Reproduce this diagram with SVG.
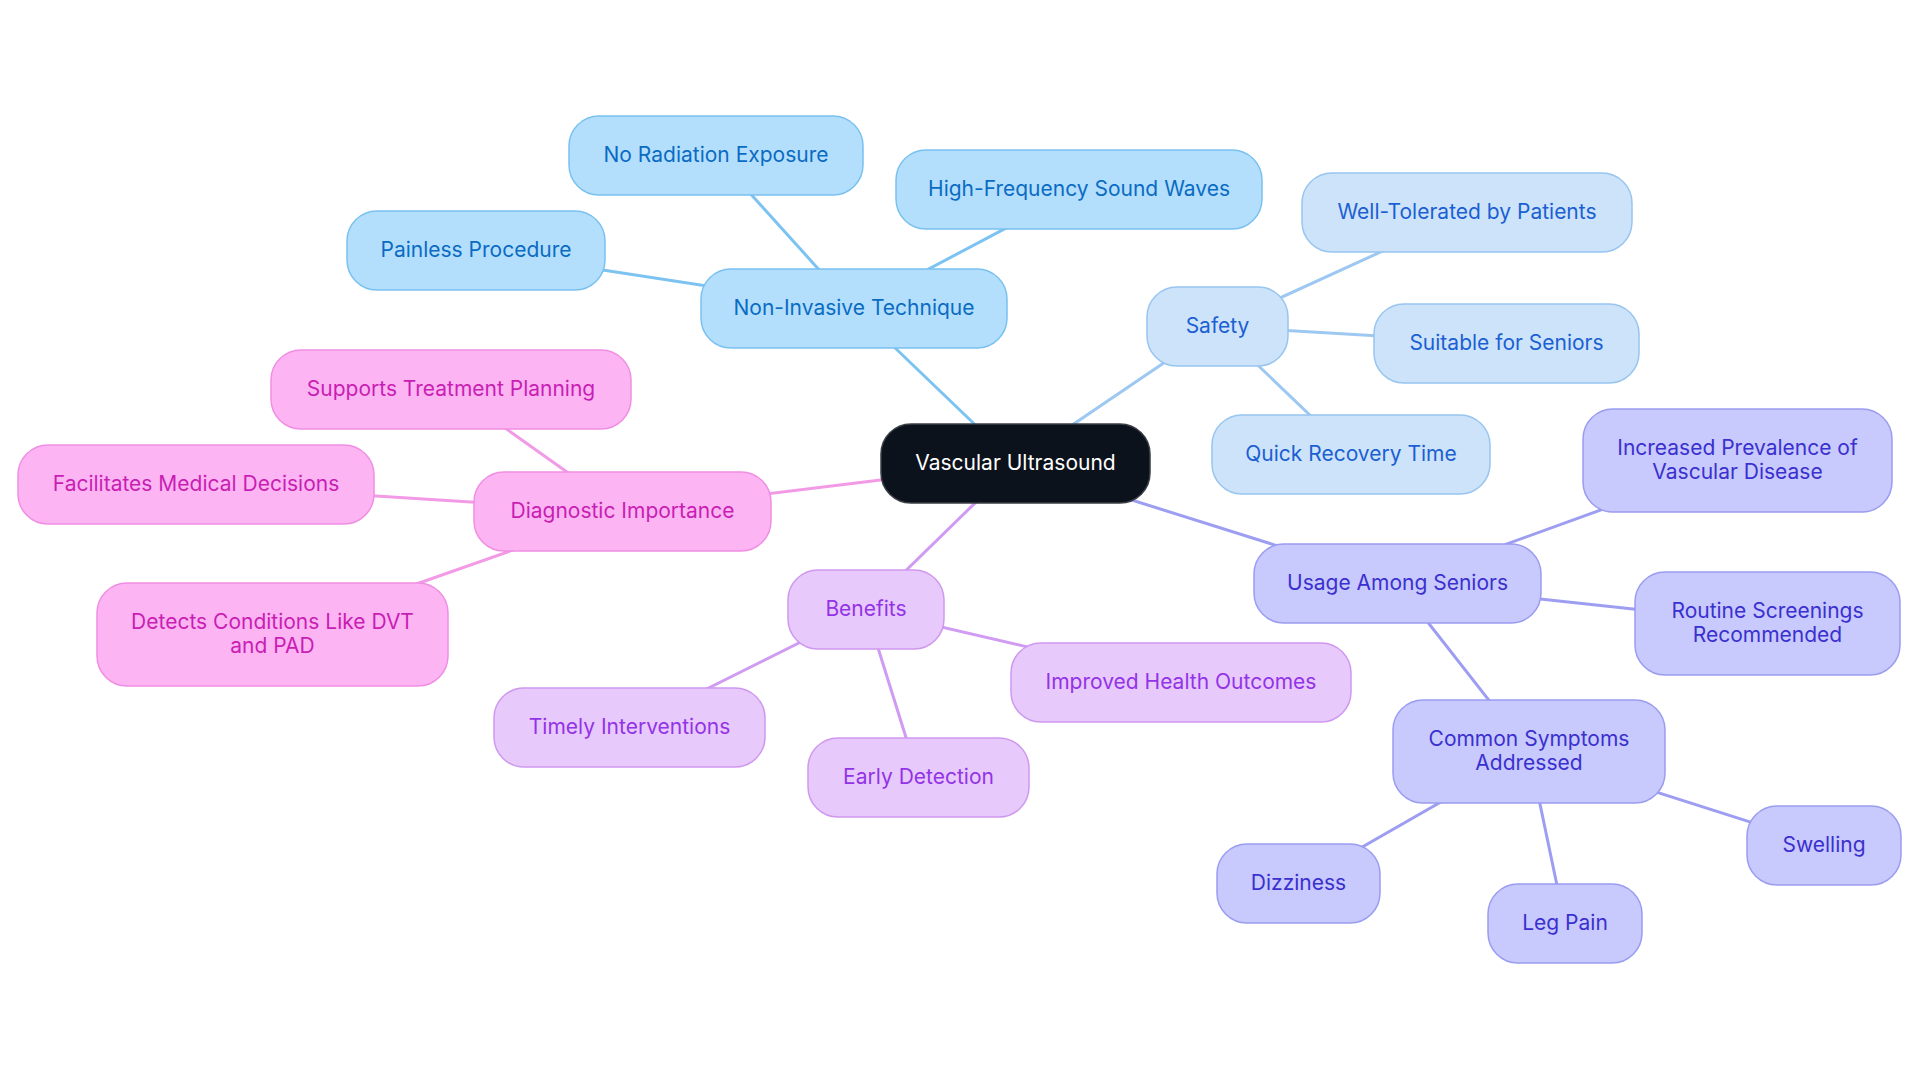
<svg xmlns="http://www.w3.org/2000/svg" width="1920" height="1083" viewBox="0 0 1920 1083">
<style>
text{font-family:Inter,"Open Sans","Liberation Sans",sans-serif;font-size:21px;text-anchor:middle}
.e{stroke-width:3;fill:none;stroke-linecap:round}
.e1{stroke:#7cc3f2}.e2{stroke:#9cc8f2}.e3{stroke:#9d9df2}.e4{stroke:#d09bf2}.e5{stroke:#f39ae7}
rect{stroke-width:1.5}
.c rect{fill:#0c121b;stroke:#3a3f46}.c text{fill:#ffffff}
.n1 rect{fill:#b3dffd;stroke:#7ac1f0}.n1 text{fill:#0b6bc2}
.n2 rect{fill:#cde3fa;stroke:#98c5f0}.n2 text{fill:#1b5fd2}
.n3 rect{fill:#c8c9fc;stroke:#9a9cf0}.n3 text{fill:#3a30cf}
.n4 rect{fill:#e7c9fc;stroke:#cf98ef}.n4 text{fill:#9333e6}
.n5 rect{fill:#fdb4f3;stroke:#f08ee3}.n5 text{fill:#c81eb4}
</style>
<rect width="1920" height="1083" fill="#ffffff" stroke="none"/>
<g id="connectors">
<line class="e e1" x1="1015.5" y1="463.5" x2="854" y2="308.5"/>
<line class="e e1" x1="854" y1="308.5" x2="716" y2="155.5"/>
<line class="e e1" x1="854" y1="308.5" x2="1079" y2="189.5"/>
<line class="e e1" x1="854" y1="308.5" x2="476" y2="250.5"/>
<line class="e e2" x1="1015.5" y1="463.5" x2="1217.5" y2="326.5"/>
<line class="e e2" x1="1217.5" y1="326.5" x2="1467" y2="212.5"/>
<line class="e e2" x1="1217.5" y1="326.5" x2="1506.5" y2="343.5"/>
<line class="e e2" x1="1217.5" y1="326.5" x2="1351" y2="454.5"/>
<line class="e e3" x1="1015.5" y1="463.5" x2="1397.5" y2="583.5"/>
<line class="e e3" x1="1397.5" y1="583.5" x2="1737.5" y2="460.5"/>
<line class="e e3" x1="1397.5" y1="583.5" x2="1767.5" y2="623.5"/>
<line class="e e3" x1="1397.5" y1="583.5" x2="1529" y2="751.5"/>
<line class="e e3" x1="1529" y1="751.5" x2="1298.5" y2="883.5"/>
<line class="e e3" x1="1529" y1="751.5" x2="1565" y2="923.5"/>
<line class="e e3" x1="1529" y1="751.5" x2="1824" y2="845.5"/>
<line class="e e4" x1="1015.5" y1="463.5" x2="866" y2="609.5"/>
<line class="e e4" x1="866" y1="609.5" x2="1181" y2="682.5"/>
<line class="e e4" x1="866" y1="609.5" x2="629.5" y2="727.5"/>
<line class="e e4" x1="866" y1="609.5" x2="918.5" y2="777.5"/>
<line class="e e5" x1="1015.5" y1="463.5" x2="622.5" y2="511.5"/>
<line class="e e5" x1="622.5" y1="511.5" x2="451" y2="389.5"/>
<line class="e e5" x1="622.5" y1="511.5" x2="196" y2="484.5"/>
<line class="e e5" x1="622.5" y1="511.5" x2="272.5" y2="634.5"/>
</g>
<g id="root" class="c"><rect x="881" y="424" width="269" height="79" rx="30"/><text x="1015.5" y="469.5">Vascular Ultrasound</text></g>
<g id="non-invasive" class="n1"><rect x="701" y="269" width="306" height="79" rx="30"/><text x="854" y="314.5">Non-Invasive Technique</text></g>
<g id="no-radiation" class="n1"><rect x="569" y="116" width="294" height="79" rx="30"/><text x="716" y="161.5">No Radiation Exposure</text></g>
<g id="high-frequency" class="n1"><rect x="896" y="150" width="366" height="79" rx="30"/><text x="1079" y="195.5">High-Frequency Sound Waves</text></g>
<g id="painless" class="n1"><rect x="347" y="211" width="258" height="79" rx="30"/><text x="476" y="256.5">Painless Procedure</text></g>
<g id="safety" class="n2"><rect x="1147" y="287" width="141" height="79" rx="30"/><text x="1217.5" y="332.5">Safety</text></g>
<g id="well-tolerated" class="n2"><rect x="1302" y="173" width="330" height="79" rx="30"/><text x="1467" y="218.5">Well-Tolerated by Patients</text></g>
<g id="suitable" class="n2"><rect x="1374" y="304" width="265" height="79" rx="30"/><text x="1506.5" y="349.5">Suitable for Seniors</text></g>
<g id="quick-recovery" class="n2"><rect x="1212" y="415" width="278" height="79" rx="30"/><text x="1351" y="460.5">Quick Recovery Time</text></g>
<g id="usage" class="n3"><rect x="1254" y="544" width="287" height="79" rx="30"/><text x="1397.5" y="589.5">Usage Among Seniors</text></g>
<g id="increased" class="n3"><rect x="1583" y="409" width="309" height="103" rx="30"/><text x="1737.5" y="455">Increased Prevalence of</text><text x="1737.5" y="479">Vascular Disease</text></g>
<g id="routine" class="n3"><rect x="1635" y="572" width="265" height="103" rx="30"/><text x="1767.5" y="618">Routine Screenings</text><text x="1767.5" y="642">Recommended</text></g>
<g id="common" class="n3"><rect x="1393" y="700" width="272" height="103" rx="30"/><text x="1529" y="746">Common Symptoms</text><text x="1529" y="770">Addressed</text></g>
<g id="dizziness" class="n3"><rect x="1217" y="844" width="163" height="79" rx="30"/><text x="1298.5" y="889.5">Dizziness</text></g>
<g id="leg-pain" class="n3"><rect x="1488" y="884" width="154" height="79" rx="30"/><text x="1565" y="929.5">Leg Pain</text></g>
<g id="swelling" class="n3"><rect x="1747" y="806" width="154" height="79" rx="30"/><text x="1824" y="851.5">Swelling</text></g>
<g id="benefits" class="n4"><rect x="788" y="570" width="156" height="79" rx="30"/><text x="866" y="615.5">Benefits</text></g>
<g id="improved" class="n4"><rect x="1011" y="643" width="340" height="79" rx="30"/><text x="1181" y="688.5">Improved Health Outcomes</text></g>
<g id="timely" class="n4"><rect x="494" y="688" width="271" height="79" rx="30"/><text x="629.5" y="733.5">Timely Interventions</text></g>
<g id="early" class="n4"><rect x="808" y="738" width="221" height="79" rx="30"/><text x="918.5" y="783.5">Early Detection</text></g>
<g id="diagnostic" class="n5"><rect x="474" y="472" width="297" height="79" rx="30"/><text x="622.5" y="517.5">Diagnostic Importance</text></g>
<g id="supports" class="n5"><rect x="271" y="350" width="360" height="79" rx="30"/><text x="451" y="395.5">Supports Treatment Planning</text></g>
<g id="facilitates" class="n5"><rect x="18" y="445" width="356" height="79" rx="30"/><text x="196" y="490.5">Facilitates Medical Decisions</text></g>
<g id="detects" class="n5"><rect x="97" y="583" width="351" height="103" rx="30"/><text x="272.5" y="629">Detects Conditions Like DVT</text><text x="272.5" y="653">and PAD</text></g>
</svg>
